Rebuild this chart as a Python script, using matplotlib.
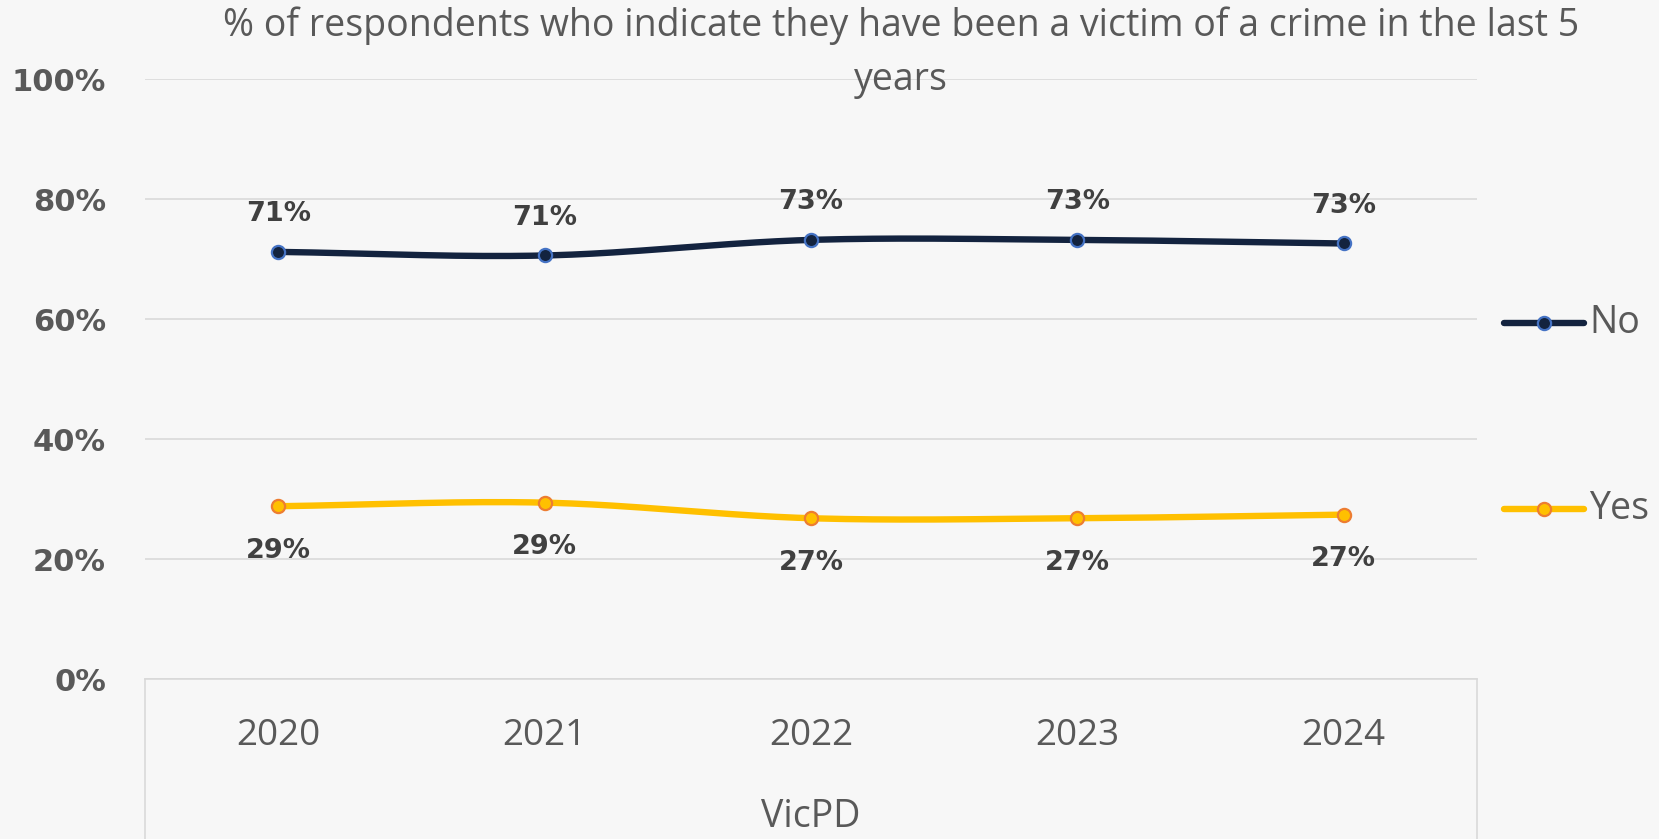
import numpy as np
import matplotlib.pyplot as plt

# survey results, VicPD
years = ['2020', '2021', '2022', '2023', '2024']
no_vals = [71.2, 70.6, 73.2, 73.2, 72.6]
yes_vals = [28.8, 29.4, 26.8, 26.8, 27.4]

plt.rcParams['font.family'] = ['Open Sans', 'DejaVu Sans']
bg = '#f7f7f7'
grey = '#595959'


def smooth(x, y, n=40):
    # catmull-rom curve through the points, like excel's smoothed line
    x = np.asarray(x, float)
    y = np.asarray(y, float)
    px = np.concatenate([[2 * x[0] - x[1]], x, [2 * x[-1] - x[-2]]])
    py = np.concatenate([[2 * y[0] - y[1]], y, [2 * y[-1] - y[-2]]])
    xs, ys = [], []
    t = np.linspace(0, 1, n)
    for i in range(1, len(px) - 2):
        for p, out in ((px, xs), (py, ys)):
            p0, p1, p2, p3 = p[i - 1:i + 3]
            out.extend(0.5 * (2 * p1 + (-p0 + p2) * t
                              + (2 * p0 - 5 * p1 + 4 * p2 - p3) * t ** 2
                              + (-p0 + 3 * p1 - 3 * p2 + p3) * t ** 3))
    return xs, ys


fig = plt.figure(figsize=(16.59, 8.39), dpi=100, facecolor=bg)
ax = fig.add_axes([0.0874, 0.1907, 0.8029, 0.715], facecolor=bg)

x = np.arange(len(years))
# name, values, line colour, marker edge, label offset, legend y
series = [('No', no_vals, '#13233f', '#4472c4', 27, 59.3),
          ('Yes', yes_vals, '#ffc000', '#ed7d31', -32, 28.4)]
for name, vals, col, edge, off, ly in series:
    sx, sy = smooth(x, vals)
    ax.plot(sx, sy, color=col, lw=4.6, solid_capstyle='round', zorder=3)
    ax.plot(x, vals, ls='none', marker='o', ms=9.5, mfc=col, mec=edge,
            mew=1.6, zorder=4)
    for xi, v in zip(x, vals):
        ax.annotate(f'{v:.0f}%', (xi, v), xytext=(0, off),
                    textcoords='offset points', ha='center', va='center',
                    fontsize=19.5, fontweight='bold', color='#404040',
                    family='DejaVu Sans')
    # legend entry drawn by hand at the right
    ax.plot([4.6, 4.9], [ly, ly], color=col, lw=4.6,
            solid_capstyle='round', clip_on=False)
    ax.plot([4.75], [ly], marker='o', ms=9.5, mfc=col, mec=edge, mew=1.6,
            clip_on=False)
    ax.text(4.92, ly, name, fontsize=27, color=grey, va='center', ha='left')

ax.set_xlim(-0.5, 4.5)
ax.set_ylim(0, 100)
ax.set_yticks(range(0, 101, 20))
ax.set_yticklabels([f'{t}%' for t in range(0, 101, 20)], fontsize=22,
                   fontweight='bold', color=grey, family='DejaVu Sans')
ax.set_xticks(x)
ax.set_xticklabels(years, fontsize=26.5, color=grey)
ax.tick_params(axis='y', length=0, pad=28)
ax.tick_params(axis='x', length=0, pad=28)
ax.grid(axis='y', color='#d9d9d9', lw=1.2)
ax.set_axisbelow(True)
for s in ax.spines.values():
    s.set_visible(False)

# category axis box below the plot
for xb in (-0.5, 4.5):
    ax.plot([xb, xb], [0, -40], color='#d9d9d9', lw=1.2, clip_on=False)
ax.plot([-0.5, 4.5], [0, 0], color='#d9d9d9', lw=1.2, clip_on=False)
ax.text(2, -23, 'VicPD', fontsize=27, color=grey, ha='center', va='center')

# two-line chart title
fig.text(0.543, 0.969, '% of respondents who indicate they have been a victim '
         'of a crime in the last 5', fontsize=27, color=grey,
         ha='center', va='center')
fig.text(0.543, 0.905, 'years', fontsize=27, color=grey,
         ha='center', va='center')

fig.savefig('out.png', dpi=100, facecolor=bg)
